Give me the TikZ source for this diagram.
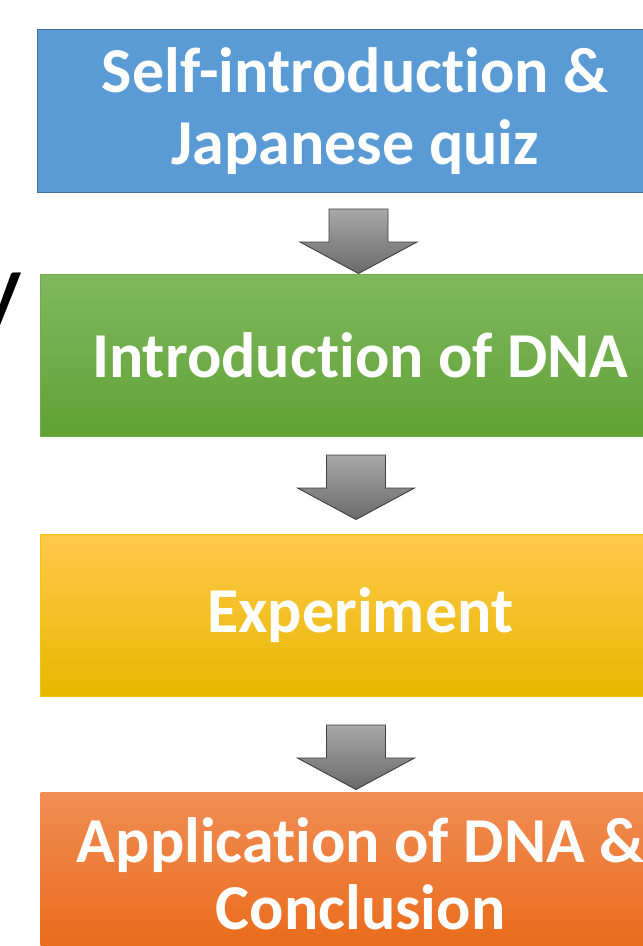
\documentclass[tikz,border=0pt]{standalone}
\usepackage{fontspec}
\setmainfont[Ligatures=NoCommon]{Carlito}
\usetikzlibrary{calc}
\definecolor{bluefill}{HTML}{5B9BD5}
\definecolor{blueedge}{HTML}{41719C}
\definecolor{greentop}{HTML}{80B860}
\definecolor{greenbot}{HTML}{60A234}
\definecolor{greenedge}{HTML}{70AD47}
\definecolor{yeltop}{HTML}{FFC94C}
\definecolor{yelmid}{HTML}{FFC000}
\definecolor{yelbot}{HTML}{E6B800}
\definecolor{yeledge}{HTML}{FFC000}
\definecolor{ortop}{HTML}{F18D55}
\definecolor{ormid}{HTML}{F17A2C}
\definecolor{orbot}{HTML}{E96A18}
\definecolor{arrtop}{HTML}{A8A8A8}
\definecolor{arrbot}{HTML}{6A6A6A}
\definecolor{arredge}{HTML}{3F3F3F}
\tikzset{
  stagebox/.style={anchor=north west, inner sep=0pt, text=white, align=center,
    font=\fontsize{64}{72}\selectfont\bfseries, line width=1.3pt},
  blockarrow/.style={top color=arrtop, bottom color=arrbot, draw=arredge, line width=0.9pt, line join=miter},
  cropped/.style={inner sep=0pt, text=black, font=\fontsize{110}{110}\selectfont}
}
\begin{document}
\begin{tikzpicture}[x=1pt,y=-1pt]
\useasboundingbox (0,0) rectangle (643,946);
\clip (0,0) rectangle (643,946);
\fill[white] (0,0) rectangle (643,946);
% cropped text fragments at left edge
\node[cropped, anchor=base east, text=black!60, font=\fontsize{80}{80}\selectfont] (fragA) at (1.5,102) {.};
\node[cropped, anchor=base east] (fragB) at (22,325) {y};
% boxes
\node[stagebox, fill=bluefill, draw=blueedge, minimum width=635pt, minimum height=163pt] (b1) at (37,29)
  {\raisebox{-3pt}{\parbox{635pt}{\centering Self-introduction \&\\Japanese quiz}}};
\node[stagebox, top color=greentop, bottom color=greenbot, draw=greenedge, line width=0.6pt, minimum width=640pt, minimum height=162pt] (b2) at (40,274)
  {Introduction of DNA};
\node[stagebox, top color=yeltop, middle color=yelmid, bottom color=yelbot, draw=yeledge, line width=0.6pt, minimum width=640pt, minimum height=162pt] (b3) at (40,534)
  {Experiment};
\node[stagebox, top color=ortop, middle color=ormid, bottom color=orbot, minimum width=640pt, minimum height=162pt, font=\fontsize{64}{67}\selectfont\bfseries] (b4) at (40,792)
  {Application of DNA \&\\Conclusion};
% block arrows
\coordinate (a1) at (358.5,209);
\coordinate (a2) at (356,455);
\coordinate (a3) at (356,725);
\foreach \a in {a1,a2,a3}{
  \draw[blockarrow] ($(\a)+(-29.5,0)$) -- ($(\a)+(29.5,0)$) -- ($(\a)+(29.5,33)$) -- ($(\a)+(58.5,33)$)
    -- ($(\a)+(0,64.5)$) -- ($(\a)+(-58.5,33)$) -- ($(\a)+(-29.5,33)$) -- cycle;
}
\end{tikzpicture}
\end{document}
